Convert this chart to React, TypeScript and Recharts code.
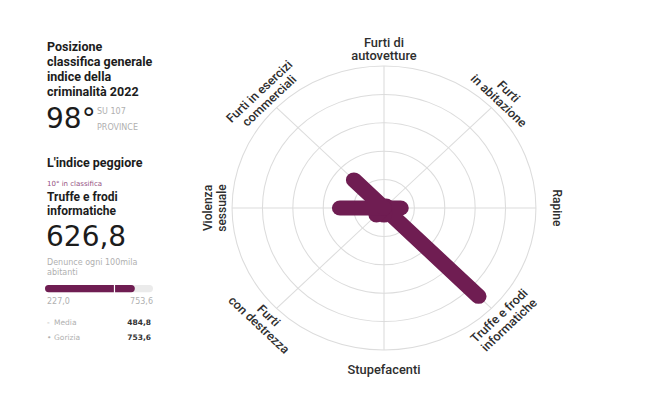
import React from "react";
import {
  RadarChart,
  Radar,
  PolarGrid,
  PolarAngleAxis,
  PolarRadiusAxis,
  BarChart,
  Bar,
  XAxis,
  YAxis,
  ReferenceLine,
} from "recharts";

// ---------- data ----------
const CATEGORIES = [
  "Furti di autovetture",
  "Furti in abitazione",
  "Rapine",
  "Truffe e frodi informatiche",
  "Stupefacenti",
  "Furti con destrezza",
  "Violenza sessuale",
  "Furti in esercizi commerciali",
];
const CATEGORY_LINES = [
  ["Furti di", "autovetture"],
  ["Furti", "in abitazione"],
  ["Rapine"],
  ["Truffe e frodi", "informatiche"],
  ["Stupefacenti"],
  ["Furti", "con destrezza"],
  ["Violenza", "sessuale"],
  ["Furti in esercizi", "commerciali"],
];
const VALUES = [1, 2, 11, 88, 5, 7, 29, 28];
const RADIUS_DOMAIN = [0, 100];

const HEADING_LINES = ["Posizione", "classifica generale", "indice della", "criminalità 2022"];
const RANK = "98°";
const RANK_NOTE = ["SU 107", "PROVINCE"];
const WORST_TITLE = "L'indice peggiore";
const WORST_RANK = "10° in classifica";
const WORST_NAME = ["Truffe e frodi", "informatiche"];
const WORST_VALUE_LABEL = "626,8";
const WORST_UNIT = ["Denunce ogni 100mila", "abitanti"];
const BAR_VALUE = 626.8;
const BAR_MIN_LABEL = "227,0";
const BAR_MAX = 753.6;
const BAR_MAX_LABEL = "753,6";
const MEDIA_VALUE = 484.8;
const LEGEND_ROWS = [
  { label: "Media", value: "484,8", bullet: "-" },
  { label: "Gorizia", value: "753,6", bullet: "•" },
];

const COLOR = "#6f1d52";
const DARK = "#1c1c1c";
const GRAY = "#b0b0b0";

const radarData = CATEGORIES.map((c, i) => ({ cat: c, idx: i, value: VALUES[i] }));
const barData = [{ name: "v", value: BAR_VALUE }];

// ---------- helpers ----------
const T = ({ x, y, h, size, children, style }: any) => (
  <div
    style={{
      position: "absolute",
      left: x,
      top: y - h / 2,
      height: h,
      lineHeight: `${h}px`,
      fontSize: size,
      whiteSpace: "nowrap",
      ...style,
    }}
  >
    {children}
  </div>
);

const SpokeShape = (props: any) => {
  const pts = props.points || [];
  return (
    <g>
      {pts.map((p: any, i: number) => (
        <line
          key={i}
          x1={p.cx}
          y1={p.cy}
          x2={p.x}
          y2={p.y}
          stroke={COLOR}
          strokeWidth={15}
          strokeLinecap="round"
        />
      ))}
    </g>
  );
};

const AngleTick = (props: any) => {
  const { cx, cy, radius, payload, index } = props;
  const a = payload.coordinate as number;
  const lines = CATEGORY_LINES[index] || [String(payload.value)];
  let rot = 90 - a;
  while (rot > 180) rot -= 360;
  while (rot <= -180) rot += 360;
  if (rot > 90) rot -= 180;
  if (rot < -90) rot += 180;
  const rad = Math.PI / 180;
  const dot = Math.sin((rot + a) * rad);
  const n = lines.length;
  const base = n === 1 ? radius + 20 : radius + 10;
  return (
    <g>
      {lines.map((t: string, i: number) => {
        const r = dot > 0 ? base + (n - 1 - i) * 13 : base + i * 13;
        const x = cx + r * Math.cos(a * rad);
        const y = cy - r * Math.sin(a * rad);
        return (
          <text
            key={i}
            x={x}
            y={y}
            transform={`rotate(${rot}, ${x}, ${y})`}
            textAnchor="middle"
            dominantBaseline="central"
            fontFamily="Roboto, sans-serif"
            fontWeight={500}
            fontSize={12}
            fill="#2e2e2e"
          >
            {t}
          </text>
        );
      })}
    </g>
  );
};

export default function App() {
  return (
    <div
      style={{
        position: "absolute",
        left: 0,
        top: 0,
        width: 648,
        height: 401,
        background: "#fff",
        overflow: "hidden",
        fontFamily: "Roboto, sans-serif",
        color: DARK,
      }}
    >
      {HEADING_LINES.map((l, i) => (
        <T key={i} x={47} y={46 + i * 15} h={15} size={12.5} style={{ fontWeight: 700 }}>
          {l}
        </T>
      ))}
      <T x={46} y={119} h={30} size={28} style={{ fontFamily: "DejaVu Sans" }}>
        {RANK}
      </T>
      {RANK_NOTE.map((l, i) => (
        <T key={i} x={97} y={112 + i * 16} h={10} size={8} style={{ fontFamily: "DejaVu Sans", color: GRAY }}>
          {l}
        </T>
      ))}
      <T x={47} y={162} h={15} size={12.5} style={{ fontWeight: 700 }}>
        {WORST_TITLE}
      </T>
      <T x={47} y={184} h={10} size={7} style={{ fontFamily: "DejaVu Sans", color: "#94507f" }}>
        {WORST_RANK}
      </T>
      {WORST_NAME.map((l, i) => (
        <T key={i} x={47} y={197 + i * 14} h={14} size={12} style={{ fontWeight: 700 }}>
          {l}
        </T>
      ))}
      <T x={46} y={237} h={30} size={28} style={{ fontFamily: "DejaVu Sans" }}>
        {WORST_VALUE_LABEL}
      </T>
      {WORST_UNIT.map((l, i) => (
        <T key={i} x={47} y={263 + i * 9.5} h={10} size={8} style={{ fontFamily: "DejaVu Sans", color: GRAY }}>
          {l}
        </T>
      ))}
      <div style={{ position: "absolute", left: 45, top: 285 }}>
        <BarChart
          width={108}
          height={8}
          data={barData}
          layout="vertical"
          margin={{ top: 0, right: 0, bottom: 0, left: 0 }}
        >
          <XAxis type="number" domain={[0, BAR_MAX]} hide />
          <YAxis type="category" dataKey="name" hide />
          <Bar
            dataKey="value"
            fill={COLOR}
            barSize={8}
            radius={4}
            background={{ fill: "#ebebeb", radius: 4 } as any}
            isAnimationActive={false}
          />
          <ReferenceLine x={MEDIA_VALUE} stroke="#ffffff" strokeWidth={1.2} />
        </BarChart>
      </div>
      <T x={47} y={302} h={10} size={8} style={{ fontFamily: "DejaVu Sans", color: GRAY }}>
        {BAR_MIN_LABEL}
      </T>
      <T x={103} y={302} h={10} size={8} style={{ fontFamily: "DejaVu Sans", color: GRAY, width: 50, textAlign: "right" }}>
        {BAR_MAX_LABEL}
      </T>
      {LEGEND_ROWS.map((r, i) => (
        <React.Fragment key={i}>
          <T x={47} y={323 + i * 15} h={10} size={7.5} style={{ fontFamily: "DejaVu Sans", color: GRAY }}>
            {r.bullet}
          </T>
          <T x={54} y={323 + i * 15} h={10} size={7.5} style={{ fontFamily: "DejaVu Sans", color: GRAY }}>
            {r.label}
          </T>
          <T x={101} y={323 + i * 15} h={10} size={7.5} style={{ fontFamily: "DejaVu Sans", fontWeight: 700, color: "#333", width: 50, textAlign: "right" }}>
            {r.value}
          </T>
        </React.Fragment>
      ))}

      <div
        style={{
          position: "absolute",
          left: 184,
          top: 8,
          width: 400,
          height: 400,
          transform: "scaleX(1.07)",
          transformOrigin: "200px 200px",
        }}
      >
        <RadarChart
          width={400}
          height={400}
          data={radarData}
          cx={200}
          cy={200}
          outerRadius={142}
          margin={{ top: 0, right: 0, bottom: 0, left: 0 }}
        >
          <PolarGrid gridType="circle" stroke="#dcdcdc" strokeWidth={1} />
          <PolarRadiusAxis domain={RADIUS_DOMAIN as any} tickCount={6} tick={false} axisLine={false} />
          <PolarAngleAxis dataKey="cat" tick={<AngleTick />} tickLine={false} axisLine={false} />
          <Radar dataKey="value" shape={<SpokeShape />} isAnimationActive={false} />
        </RadarChart>
      </div>
    </div>
  );
}
